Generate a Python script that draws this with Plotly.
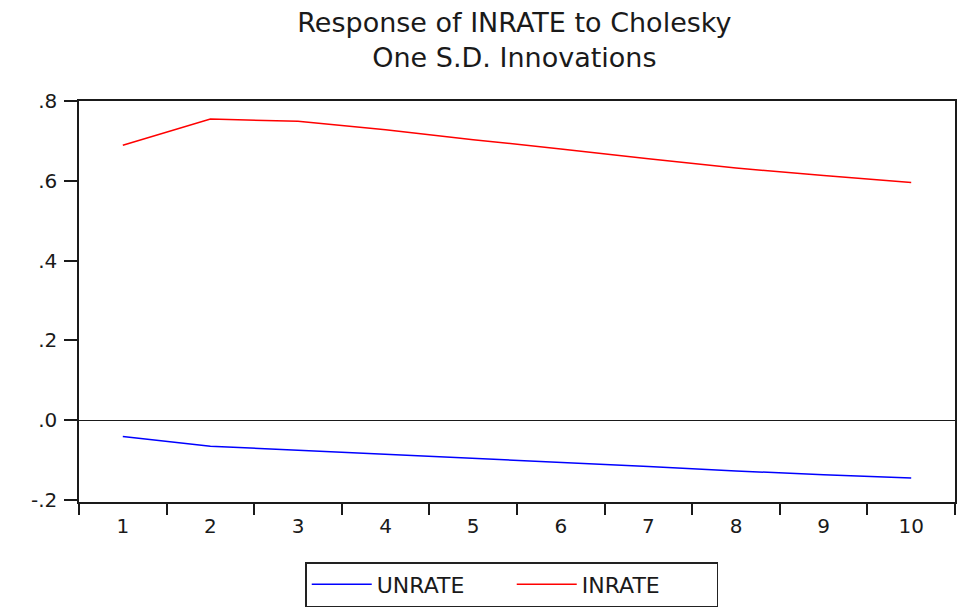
import plotly.graph_objects as go

periods = ["1", "2", "3", "4", "5", "6", "7", "8", "9", "10"]
unrate = [-0.041, -0.065, -0.075, -0.085, -0.096, -0.106, -0.116, -0.127, -0.137, -0.145]
inrate = [0.689, 0.755, 0.749, 0.728, 0.703, 0.680, 0.655, 0.632, 0.613, 0.596]
ytick_vals = [-0.2, 0.0, 0.2, 0.4, 0.6, 0.8]
ytick_text = ["-.2", ".0", ".2", ".4", ".6", ".8"]

FONT = "DejaVu Sans"

fig = go.Figure()
fig.add_trace(go.Scatter(x=periods, y=unrate, mode="lines", name="UNRATE",
                         line=dict(color="#0000FF", width=1.5)))
fig.add_trace(go.Scatter(x=periods, y=inrate, mode="lines", name="INRATE",
                         line=dict(color="#FF0000", width=1.5)))

fig.update_layout(
    width=958, height=610, autosize=False,
    paper_bgcolor="white", plot_bgcolor="white",
    margin=dict(l=79, r=3, t=101, b=108, autoexpand=False),
    title=dict(text="Response of INRATE to Cholesky<br>One S.D. Innovations",
               x=0.497, xref="paper", xanchor="center",
               y=0.948, yanchor="top", yref="container",
               font=dict(family=FONT, size=27, color="#1a1a1a")),
    font=dict(family=FONT, color="#1a1a1a"),
    showlegend=True,
    legend=dict(orientation="h", x=0.494, xanchor="center", y=-0.262, yanchor="bottom",
                bordercolor="#222222", borderwidth=1.5, bgcolor="white",
                font=dict(family=FONT, size=22, color="#1a1a1a"),
                itemwidth=60, entrywidth=130),
)

fig.update_xaxes(
    type="category", range=[-0.5, 9.5], tickson="boundaries", automargin=False,
    showline=True, linecolor="#1a1a1a", linewidth=1.5, mirror=True,
    ticks="outside", ticklen=11, tickwidth=1.5, tickcolor="#1a1a1a",
    ticklabelstandoff=5,
    showgrid=False, zeroline=False,
    tickfont=dict(family=FONT, size=20, color="#1a1a1a"),
)
fig.update_yaxes(
    range=[-0.205, 0.8], tickmode="array", tickvals=ytick_vals, ticktext=ytick_text,
    automargin=False,
    showline=True, linecolor="#1a1a1a", linewidth=1.5, mirror=True,
    ticks="outside", ticklen=13, tickwidth=1.5, tickcolor="#1a1a1a",
    ticklabelstandoff=3,
    showgrid=False, zeroline=True, zerolinecolor="#1a1a1a", zerolinewidth=1.2,
    tickfont=dict(family=FONT, size=20, color="#1a1a1a"),
)

post = ("document.body.style.margin='0';"
        "document.body.style.padding='0';"
        "document.body.style.overflow='hidden';"
        "document.documentElement.style.overflow='hidden';"
        "Plotly.relayout('{plot_id}', {width: 958, height: 610});")

fig.write_html("out.html", config={"responsive": False, "displayModeBar": False},
               post_script=post)
